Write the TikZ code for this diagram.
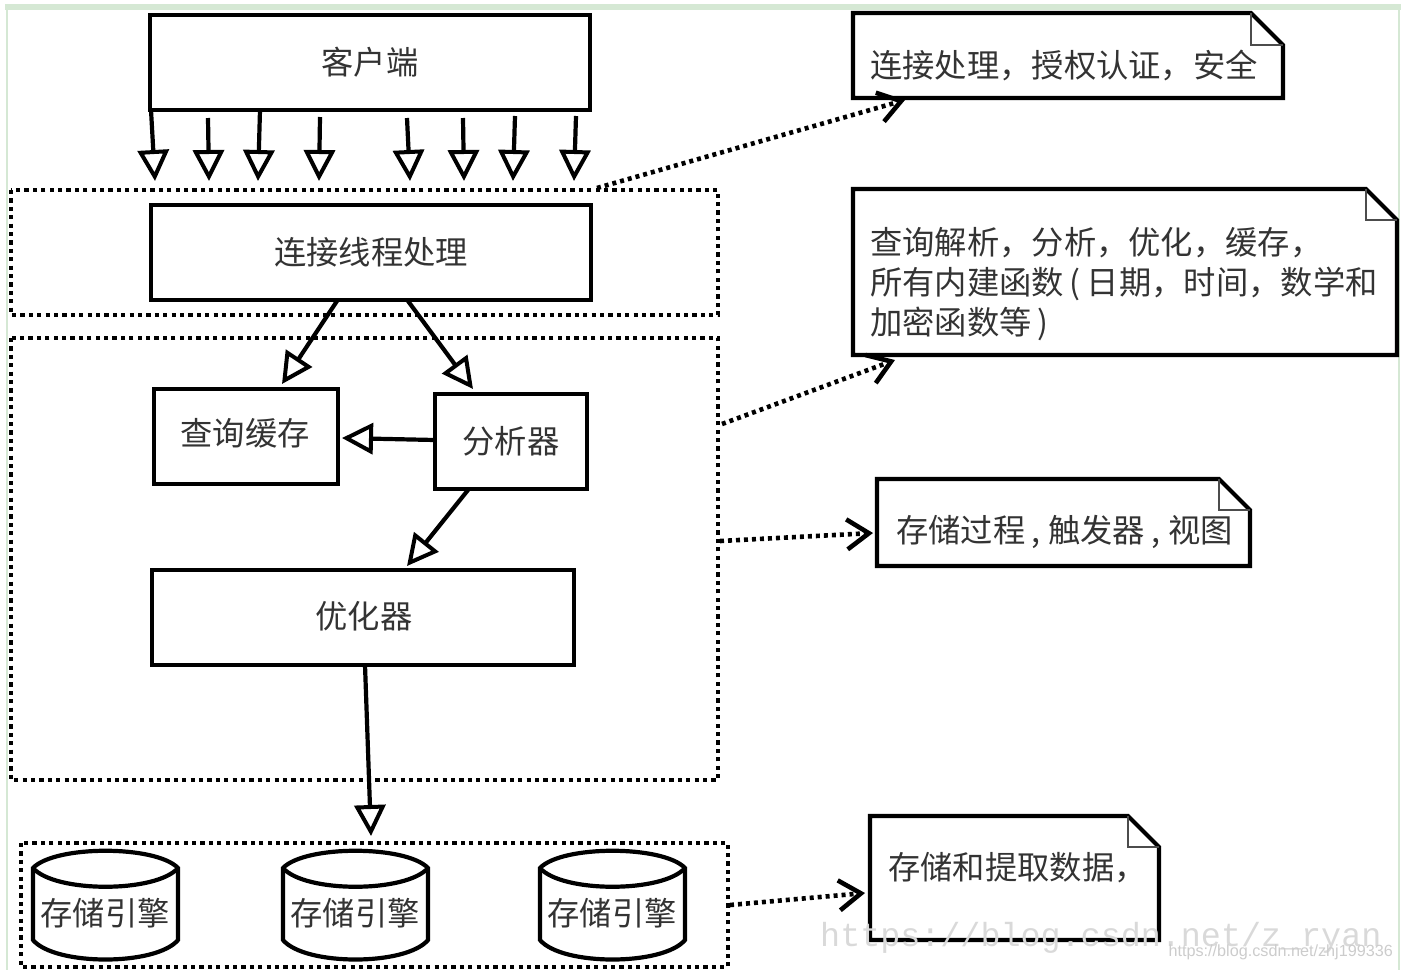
\documentclass[tikz,border=0pt]{standalone}
\usepackage{fontspec}
\setmainfont{Noto Sans CJK SC}
\newfontfamily\wmserif{Liberation Mono}
\newfontfamily\wmsans{Liberation Sans}
\usetikzlibrary{arrows.meta,calc}
\definecolor{txt}{HTML}{333333}
\definecolor{band}{HTML}{D5E8D4}
\tikzset{
  x=1pt,y=-1pt,
  ln/.style={line width=4.2pt,black,line join=miter},
  box/.style={ln,draw,rectangle,inner sep=0pt,text=txt,font=\fontsize{32.3}{40}\selectfont},
  lab/.style={text=txt,font=\fontsize{32.3}{40}\selectfont,inner sep=0pt,anchor=west,align=left},
  dotbox/.style={line width=4.6pt,dash pattern=on 4.2pt off 4.2pt,black},
  flow/.style={ln,-{Triangle[open,length=31pt,width=31pt,line width=4pt]},shorten >=0pt},
  dep/.style={line width=4.6pt,dash pattern=on 4pt off 4pt,black,-{Straight Barb[length=22pt,width=30pt,line width=4.6pt]}},
  cyl/.style={draw=none,inner sep=0pt,minimum width=145pt,minimum height=108pt,text=txt,font=\fontsize{32.3}{40}\selectfont},
  fold/.style={line width=2.2pt,black!70},
}
\newcommand{\notebox}[6]{% name x1 y1 x2 y2 foldsize
  \node[draw=none,inner sep=0pt,minimum width=#4pt-#2pt,minimum height=#5pt-#3pt,anchor=north west] (#1) at (#2,#3) {};
  \draw[ln] (#2,#3) -- ({#4-#6},#3) -- (#4,{#3+#6}) -- (#4,#5) -- (#2,#5) -- cycle;
  \draw[fold] ({#4-#6},#3) -- ({#4-#6},{#3+#6}) -- (#4,{#3+#6});
}
\newcommand{\drum}[3]{% name x-left label
  \node[cyl,anchor=center] (#1) at ({#2+72},913) {#3};
  \draw[ln] (#2,868) .. controls ({#2+22},845) and ({#2+123},845) .. ({#2+145},868)
    -- ({#2+145},940) .. controls ({#2+123},966) and ({#2+22},966) .. (#2,940) -- cycle;
  \draw[ln] (#2,868) .. controls ({#2+22},893) and ({#2+123},893) .. ({#2+145},868);
}
\begin{document}
\begin{tikzpicture}
\useasboundingbox (0,0) rectangle (1402,970);
% frame
\fill[band] (5,4) rectangle (1401,10);
\draw[band,line width=1.5pt] (7,10) -- (7,970);
\draw[band,line width=1.5pt] (1399,10) -- (1399,970);

% dotted groups
\draw[dotbox] (11,190) rectangle (718,315);
\draw[dotbox] (11,338) rectangle (718,780);
\draw[dotbox] (21,843) rectangle (728,967);
\node[inner sep=0pt,minimum width=707pt,minimum height=125pt] (gconn) at (364.5,252.5) {};
\node[inner sep=0pt,minimum width=707pt,minimum height=442pt] (gsrv) at (364.5,559) {};
\node[inner sep=0pt,minimum width=707pt,minimum height=124pt] (gstore) at (374.5,905) {};

% boxes
\node[box,minimum width=440pt,minimum height=95pt] (client) at (370,62.5) {\raisebox{1pt}{客户端}};
\node[box,minimum width=440pt,minimum height=95pt] (conn) at (371,252.5) {\raisebox{1pt}{连接线程处理}};
\node[box,minimum width=184pt,minimum height=95pt] (cache) at (246,436.5) {};
\node[lab,anchor=center] (cachet) at (245,433) {查询缓存};
\node[box,minimum width=152pt,minimum height=95pt] (parser) at (511,441.5) {分析器};
\node[box,minimum width=422pt,minimum height=95pt] (opt) at (363,617.5) {};
\node[lab,anchor=center] (optt) at (364,616) {优化器};

% storage engines
\drum{e1}{33}{存储引擎}
\drum{e2}{283}{存储引擎}
\drum{e3}{540}{存储引擎}

% notes
\notebox{n1}{853}{13}{1283}{98}{32}
\notebox{n2}{853}{189}{1397}{355}{31}
\notebox{n3}{877}{479}{1250}{566}{31}
\notebox{n4}{870}{816}{1159}{940}{31}
\node[lab] (n1t) at (870,65) {连接处理，授权认证，安全};
\node[lab,anchor=north west,align=left] (n2t) at (870,227) {\fontsize{32.3}{40}\selectfont 查询解析，分析，优化，缓存，\\所有内建函数\kern6pt(\kern6pt日期，时间，数学和\\加密函数等\kern6pt)};
\node[lab] (n3t) at (896,532) {存储过程\kern6pt,\kern8pt触发器\kern6pt,\kern8pt视图};
\node[lab] (n4t) at (888,868) {存储和提取数据，};

% client arrows
\foreach \i/\xa/\ya/\xb in {1/151/110/155,2/208/118/209,3/260/110/258,4/320/117/319,5/407/118/410,6/463/118/464,7/515/116/513,8/576/116/574}{
  \coordinate (ca\i) at (\xa,\ya);
  \coordinate (cb\i) at (\xb,181);
  \draw[flow] (ca\i) -- (cb\i);
}

% flows
\coordinate (c1s) at (337,301); \coordinate (c1e) at (282,384);
\coordinate (c2s) at (408,301); \coordinate (c2e) at (473,389);
\coordinate (p1s) at (435,440); \coordinate (p1e) at (342,438);
\coordinate (p2s) at (468,490); \coordinate (p2e) at (407,566);
\coordinate (o1s) at (365,665); \coordinate (o1e) at (371,836);
\draw[flow] (c1s) -- (c1e);
\draw[flow] (c2s) -- (c2e);
\draw[flow] (p1s) -- (p1e);
\draw[flow] (p2s) -- (p2e);
\draw[flow] (o1s) -- (o1e);

% dotted dependency arrows
\coordinate (d1s) at (597,188); \coordinate (d1e) at (905,100);
\coordinate (d2s) at (722,424); \coordinate (d2e) at (895,360);
\coordinate (d3s) at (720,541); \coordinate (d3e) at (873,533);
\coordinate (d4s) at (730,905); \coordinate (d4e) at (865,893);
\draw[dep] (d1s) -- (d1e);
\draw[dep] (d2s) -- (d2e);
\draw[dep] (d3s) -- (d3e);
\draw[dep] (d4s) -- (d4e);

% watermark
\node[anchor=west,inner sep=0pt,text=black!15,font=\wmserif\fontsize{33.4}{36}\selectfont] (wm1) at (820,938) {https://blog.csdn.net/z\_ryan};
\node[anchor=east,inner sep=0pt,text=black!20,font=\wmsans\fontsize{16.2}{18}\selectfont] (wm2) at (1393,952) {https://blog.csdn.net/zhj199336};
\end{tikzpicture}
\end{document}
